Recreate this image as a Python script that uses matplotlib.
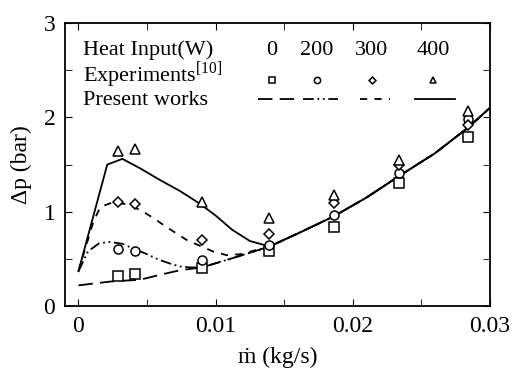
import matplotlib
matplotlib.use("Agg")
import matplotlib.pyplot as plt
from matplotlib.ticker import MultipleLocator

plt.rcParams['font.family'] = ['Liberation Serif', 'DejaVu Serif']
plt.rcParams['mathtext.fontset'] = 'custom'
plt.rcParams['mathtext.rm'] = 'Liberation Serif'

# Experimental data
x_exp = [0.0029, 0.0041, 0.0090, 0.0139, 0.0186, 0.0234, 0.0284]
sq_exp = [0.32, 0.34, 0.40, 0.58, 0.84, 1.30, 1.79]
ci_exp = [0.60, 0.58, 0.49, 0.65, 0.965, 1.41, 1.98]
di_exp = [1.10, 1.08, 0.70, 0.76, 1.09, 1.50, 1.92]
tr_exp = [1.64, 1.67, 1.10, 0.93, 1.18, 1.55, 2.07]

# Model curves (present works)
x_common = [0.0139, 0.0160, 0.0186, 0.0210, 0.0234, 0.0260, 0.0284, 0.0300]
y_common = [0.63, 0.77, 0.95, 1.15, 1.38, 1.62, 1.89, 2.10]

x_0w = [0.0, 0.0023, 0.0045, 0.0059, 0.0074, 0.0090, 0.0115] + x_common
y_0w = [0.22, 0.26, 0.28, 0.33, 0.38, 0.41, 0.52] + y_common

x_200w = [0.0, 0.0007, 0.0015, 0.0023, 0.0032, 0.0040, 0.0050, 0.0059,
          0.0067, 0.0074, 0.0082, 0.0090, 0.0115] + x_common
y_200w = [0.37, 0.58, 0.665, 0.68, 0.66, 0.61, 0.55, 0.49,
          0.45, 0.42, 0.41, 0.41, 0.52] + y_common

x_300w = [0.0, 0.0011, 0.0016, 0.0025, 0.0035, 0.0045, 0.0055, 0.0064,
          0.0079, 0.0090, 0.0098, 0.0108, 0.0118] + x_common
y_300w = [0.37, 0.90, 1.05, 1.10, 1.08, 1.02, 0.93, 0.84,
          0.70, 0.63, 0.58, 0.54, 0.55] + y_common

x_400w = [0.0, 0.0021, 0.0032, 0.0045, 0.0059, 0.0074, 0.0088, 0.0100,
          0.0112, 0.0125, 0.0135] + x_common
y_400w = [0.37, 1.50, 1.56, 1.46, 1.34, 1.22, 1.09, 0.96,
          0.81, 0.69, 0.65] + y_common

heat_labels = ['0', '200', '300', '400']

fig = plt.figure(figsize=(5.14, 3.77), dpi=100)
ax = fig.add_axes([0.1265, 0.188, 0.8265, 0.751])

ls_0 = (0, (8, 4))
ls_200 = (0, (6, 2, 1, 2, 1, 2))
ls_300 = (0, (4, 4))
ls_400 = '-'
lw = 1.3

ax.plot(x_0w, y_0w, color='black', lw=lw, linestyle=ls_0)
ax.plot(x_200w, y_200w, color='black', lw=lw, linestyle=ls_200)
ax.plot(x_300w, y_300w, color='black', lw=lw, linestyle=ls_300)
ax.plot(x_400w, y_400w, color='black', lw=lw, linestyle=ls_400)

mk = dict(linestyle='none', markerfacecolor='white', markeredgecolor='black', markeredgewidth=1.1)
ax.plot(x_exp, sq_exp, marker='s', markersize=6.5, **mk)
ax.plot(x_exp, ci_exp, marker='o', markersize=6.5, **mk)
ax.plot(x_exp, di_exp, marker='D', markersize=5, **mk)
ax.plot(x_exp, tr_exp, marker='^', markersize=6.5, **mk)

ax.set_xlim(-0.00098, 0.0300)
ax.set_ylim(0, 3)
ax.xaxis.set_minor_locator(MultipleLocator(0.005))
ax.yaxis.set_major_locator(MultipleLocator(1))
ax.yaxis.set_minor_locator(MultipleLocator(0.5))
ax.set_xticks([0, 0.01, 0.02, 0.03])
ax.set_xticklabels(['0', '0.01', '0.02', '0.03'])
ax.tick_params(which='both', direction='in', top=True, right=True, labelsize=17)
ax.tick_params(which='major', length=5, pad=7)
ax.tick_params(which='minor', length=5)
for s in ax.spines.values():
    s.set_linewidth(1.3)

ax.set_xlabel('ṁ (kg/s)', fontsize=17, labelpad=7)
ax.set_ylabel('Δp (bar)', fontsize=17, labelpad=8)

# Custom legend block
T = ax.transAxes
fs = 16
ax.text(0.042, 0.903, 'Heat Input(W)', transform=T, fontsize=fs, va='center', ha='left')
ax.text(0.042, 0.815, r'Experiments$^{[10]}$', transform=T, fontsize=fs, va='center', ha='left')
ax.text(0.042, 0.726, 'Present works', transform=T, fontsize=fs, va='center', ha='left')
cols = [0.487, 0.592, 0.722, 0.867]
for cx, lab in zip(cols, heat_labels):
    ax.text(cx, 0.903, lab, transform=T, fontsize=fs, va='center', ha='center')
leg_markers = [('s', 4.5), ('o', 4.5), ('D', 3.5), ('^', 4.5)]
for cx, (m, ms) in zip(cols, leg_markers):
    ax.plot([cx], [0.799], transform=T, marker=m, markersize=ms, **mk)
leg_lines = [(0.454, 0.541, ls_0), (0.560, 0.642, ls_200),
             (0.694, 0.765, ls_300), (0.824, 0.918, ls_400)]
for x0, x1, ls in leg_lines:
    ax.plot([x0, x1], [0.730, 0.730], transform=T, color='black', lw=lw, linestyle=ls)

fig.savefig('out.png', dpi=100)
